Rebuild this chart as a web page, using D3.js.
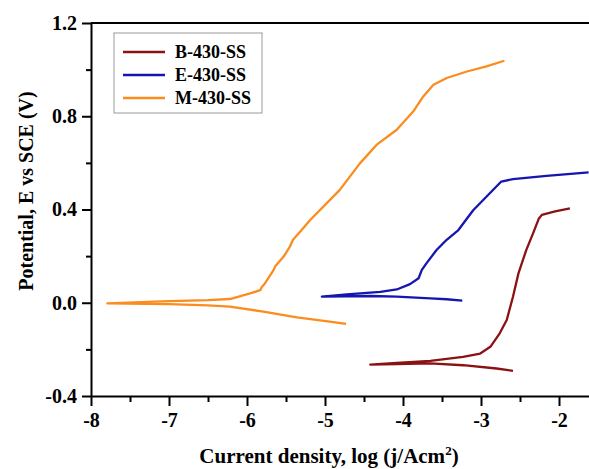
<!DOCTYPE html>
<html>
<head>
<meta charset="utf-8">
<script src="https://cdn.jsdelivr.net/npm/d3@7"></script>
<style>
  body { margin: 0; background: #fff; }
  svg { font-family: "Liberation Serif", "Times New Roman", serif; font-weight: bold; }
  .axis path, .axis line { stroke: #000; stroke-width: 2; }
  .axis text { font-family: "Liberation Serif", "Times New Roman", serif; font-size: 20px; font-weight: bold; fill: #000; }
  .title { font-weight: bold; }
  .legend_text { font-size: 18px; font-weight: bold; }
</style>
</head>
<body>
<div id="chart"></div>
<script>

//data: [log j, E] from cathodic end through Ecorr to anodic end
var seriesNames = ["B-430-SS", "E-430-SS", "M-430-SS"];
var seriesColors = ["#8b1214", "#1515b0", "#fb8c1e"];

var bData = [
  [-2.59, -0.292], [-2.80, -0.282], [-3.23, -0.268], [-3.65, -0.260], [-4.08, -0.263], [-4.42, -0.265],
  [-4.08, -0.258], [-3.65, -0.249], [-3.23, -0.232], [-3.01, -0.218], [-2.88, -0.189], [-2.76, -0.131],
  [-2.67, -0.074], [-2.59, 0.026], [-2.52, 0.126], [-2.42, 0.226], [-2.33, 0.300], [-2.26, 0.360],
  [-2.22, 0.377], [-2.05, 0.392], [-1.86, 0.405]
];

var eData = [
  [-3.24, 0.009], [-3.44, 0.015], [-3.65, 0.019], [-4.08, 0.026], [-4.41, 0.029], [-5.04, 0.026],
  [-4.72, 0.036], [-4.29, 0.047], [-4.08, 0.057], [-3.91, 0.080], [-3.80, 0.105], [-3.76, 0.140],
  [-3.70, 0.169], [-3.57, 0.226], [-3.44, 0.270], [-3.29, 0.312], [-3.10, 0.397], [-2.74, 0.520],
  [-2.59, 0.530], [-2.16, 0.544], [-1.62, 0.559]
];

var mData = [
  [-4.73, -0.091], [-4.94, -0.081], [-5.36, -0.063], [-5.79, -0.038], [-6.22, -0.017],
  [-6.50, -0.011], [-7.00, -0.006], [-7.79, -0.003],
  [-7.00, 0.007], [-6.50, 0.011], [-6.22, 0.016], [-5.96, 0.040], [-5.83, 0.054], [-5.81, 0.068],
  [-5.77, 0.083], [-5.66, 0.140], [-5.64, 0.155], [-5.53, 0.198], [-5.45, 0.241], [-5.41, 0.270],
  [-5.30, 0.312], [-5.19, 0.355], [-4.81, 0.484], [-4.55, 0.599],
  [-4.34, 0.677], [-4.08, 0.742], [-3.87, 0.820], [-3.74, 0.885], [-3.61, 0.935], [-3.44, 0.964],
  [-3.18, 0.992], [-2.93, 1.014], [-2.70, 1.038]
];

var xTicks = [-8, -7, -6, -5, -4, -3, -2];
var yTicks = [-0.4, 0.0, 0.4, 0.8, 1.2];

var allData = [bData, eData, mData];

//set margins
var margin = {top: 23, right: 0, bottom: 73, left: 91};
var fullWidth = 589, fullHeight = 469;
var height = fullHeight - margin.top - margin.bottom;

var xScale = d3.scaleLinear().domain([-8, -1.5]).range([0, 78 * 6.5]);
var yScale = d3.scaleLinear().domain([-0.4, 1.2]).range([height, 0]);

// plain hyphen for negatives, like the original
function hy(f) { return function(d) { return f(d).replace("\u2212", "-"); }; }

var svg = d3.select("#chart")
  .append("svg")
  .attr("width", fullWidth)
  .attr("height", fullHeight);

var g = svg.append("g")
  .attr("transform", "translate(" + margin.left + "," + margin.top + ")");

//minor ticks
g.append("g")
  .attr("class", "axis")
  .call(d3.axisLeft(yScale).tickValues(d3.range(-0.2, 1.2, 0.4)).tickSize(5).tickFormat(""))
  .select(".domain").remove();

g.append("g")
  .attr("class", "axis")
  .attr("transform", "translate(0," + height + ")")
  .call(d3.axisBottom(xScale).tickValues(d3.range(-7.5, -1.5, 1)).tickSize(6).tickFormat(""))
  .select(".domain").remove();

//y axis
g.append("g")
  .attr("class", "axis")
  .call(d3.axisLeft(yScale).tickValues(yTicks).tickSize(9).tickSizeOuter(0).tickPadding(5)
    .tickFormat(hy(d3.format(".1f"))));

//x axis
g.append("g")
  .attr("class", "axis")
  .attr("transform", "translate(0," + height + ")")
  .call(d3.axisBottom(xScale).tickValues(xTicks).tickSize(10).tickSizeOuter(0).tickPadding(7)
    .tickFormat(hy(d3.format("d"))));

//top frame
g.append("line")
  .attr("x1", 0).attr("x2", xScale(-1.5))
  .attr("y1", 0).attr("y2", 0)
  .attr("stroke", "#000").attr("stroke-width", 2);

//curves
var line = d3.line()
  .x(function(d) { return xScale(d[0]); })
  .y(function(d) { return yScale(d[1]); });

allData.forEach(function(d, i) {
  g.append("path")
    .datum(d)
    .attr("fill", "none")
    .attr("stroke", seriesColors[i])
    .attr("stroke-width", 2.3)
    .attr("stroke-linejoin", "round")
    .attr("d", line);
});

//legend
var legend = svg.append("g").attr("transform", "translate(114,33)");
legend.append("rect")
  .attr("width", 148).attr("height", 80)
  .attr("fill", "#fff").attr("stroke", "#999").attr("stroke-width", 1);

seriesNames.forEach(function(name, i) {
  var yy = 19 + i * 23;
  legend.append("line")
    .attr("x1", 9).attr("x2", 51)
    .attr("y1", yy).attr("y2", yy)
    .attr("stroke", seriesColors[i]).attr("stroke-width", 2.3);
  legend.append("text")
    .attr("class", "legend_text")
    .attr("x", 61).attr("y", yy + 6)
    .text(name);
});

//axis titles
var xt = svg.append("text")
  .attr("class", "title")
  .attr("x", 329).attr("y", 463)
  .style("font-size", "21px")
  .style("text-anchor", "middle")
  .text("Current density, log (j/Acm");
xt.append("tspan").attr("dy", -8).style("font-size", "13px").text("2");
xt.append("tspan").attr("dy", 8).text(")");

svg.append("text")
  .attr("class", "title")
  .attr("transform", "translate(33,191) rotate(-90)")
  .style("font-size", "20px")
  .style("text-anchor", "middle")
  .text("Potential, E vs SCE (V)");

</script>
</body>
</html>
